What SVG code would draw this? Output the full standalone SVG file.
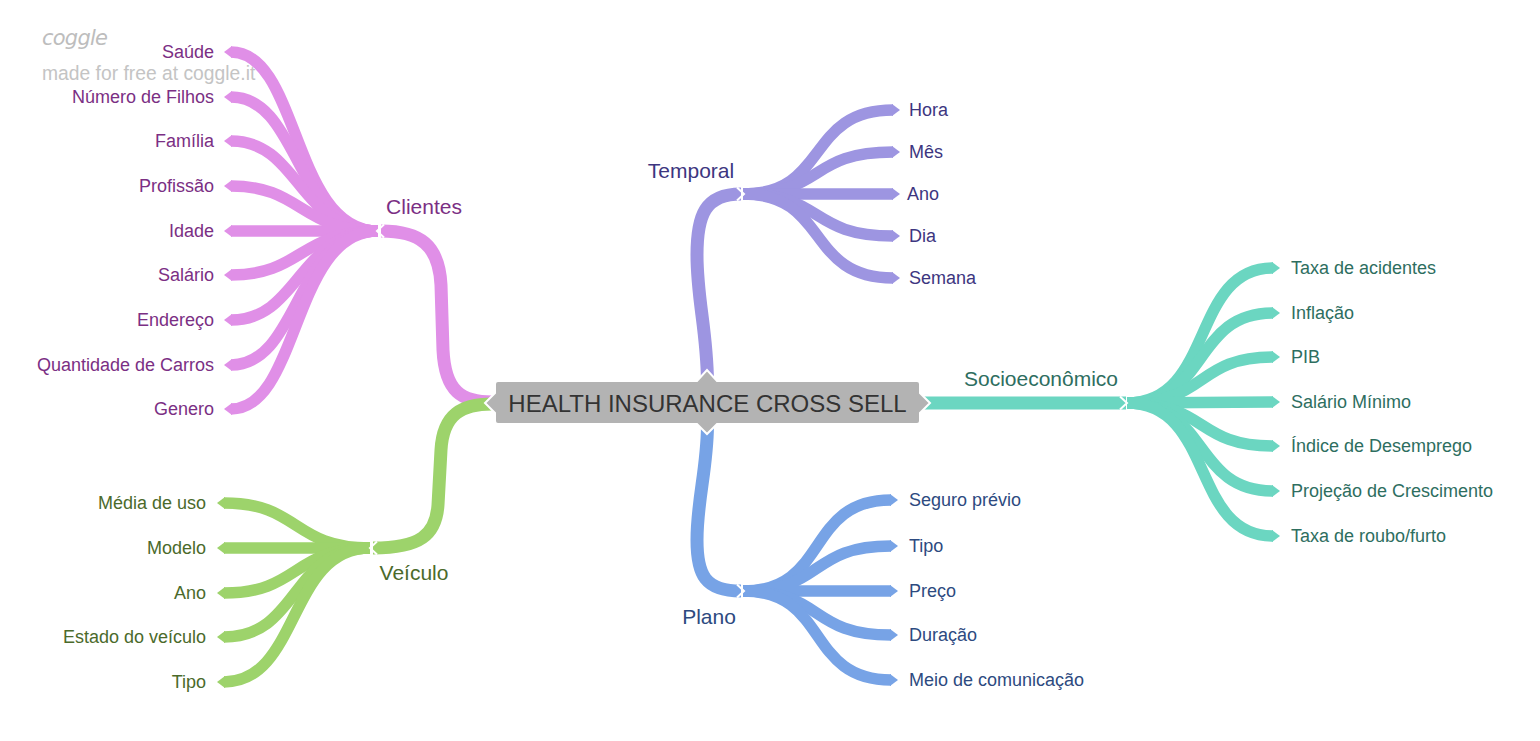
<svg xmlns="http://www.w3.org/2000/svg" width="1540" height="741" viewBox="0 0 1540 741">
<style>
text{font-family:"Liberation Sans",Arial,sans-serif}
.leaf{font-size:18px}
.mid{font-size:21px}
.b{fill:none;stroke-linecap:butt}
.lf{stroke-width:11.5}
.tr{stroke-width:13}
.cli{stroke:#e08fe7}.clif{fill:#e08fe7}.clit{fill:#7b2f84}
.tem{stroke:#9d95e1}.temf{fill:#9d95e1}.temt{fill:#3d3680}
.veh{stroke:#9dd36b}.vehf{fill:#9dd36b}.veht{fill:#4b6a2b}
.pla{stroke:#77a3e6}.plaf{fill:#77a3e6}.plat{fill:#2d4a80}
.soc{stroke:#6bd6c1}.socf{fill:#6bd6c1}.soct{fill:#2e6e5f}
.chev{fill:none;stroke:#fff;stroke-width:2}
</style>
<rect width="1540" height="741" fill="#fff"/>
<g id="watermark">
<text x="42" y="45" font-size="21" font-style="italic" fill="#bdbdbd" style="font-family:'DejaVu Sans',sans-serif" textLength="66">coggle</text>
<text x="42" y="80" font-size="19.3" fill="#c4c4c4">made for free at coggle.it</text>
</g>
<g id="connectors">
<!-- trunks -->
<path class="b tr cli" d="M492,402 C462,402 445,392 443,350 L441,285 C439,245 420,231 381,231"/>
<path class="b tr veh" d="M492,404 C462,404 443,414 441,450 L438,505 C436,535 420,548 373,548"/>
<path class="b tr tem" d="M707.5,382 C707,330 697,300 697,255 C697,215 705,194 741,194"/>
<path class="b tr pla" d="M707.5,426 C707,470 697,500 697,540 C697,575 705,591 741,591"/>
<path class="b tr soc" d="M924,403 L1126,403"/>
<!-- Clientes leaves -->
<g class="cli">
<path class="b lf" d="M378,231 C292,231 300,52 231,52"/>
<path class="b lf" d="M378,231 C295,231 300,97 231,97"/>
<path class="b lf" d="M378,231 C298,231 300,141 231,141"/>
<path class="b lf" d="M378,231 C300,231 302,186 231,186"/>
<path class="b lf" d="M378,231 L231,231"/>
<path class="b lf" d="M378,231 C300,231 302,275 231,275"/>
<path class="b lf" d="M378,231 C298,231 300,320 231,320"/>
<path class="b lf" d="M378,231 C295,231 300,365 231,365"/>
<path class="b lf" d="M378,231 C292,231 300,409 231,409"/>
</g>
<g class="clif">
<polygon points="232,46 224,52 232,58"/>
<polygon points="232,91 224,97 232,103"/>
<polygon points="232,135 224,141 232,147"/>
<polygon points="232,180 224,186 232,192"/>
<polygon points="232,225 224,231 232,237"/>
<polygon points="232,269 224,275 232,281"/>
<polygon points="232,314 224,320 232,326"/>
<polygon points="232,359 224,365 232,371"/>
<polygon points="232,403 224,409 232,415"/>
</g>
<!-- Veiculo leaves -->
<g class="veh">
<path class="b lf" d="M370,548 C292,548 300,503 224,503"/>
<path class="b lf" d="M370,548 L224,548"/>
<path class="b lf" d="M370,548 C292,548 300,593 224,593"/>
<path class="b lf" d="M370,548 C290,548 300,637 224,637"/>
<path class="b lf" d="M370,548 C288,548 300,682 224,682"/>
</g>
<g class="vehf">
<polygon points="225,497 217,503 225,509"/>
<polygon points="225,542 217,548 225,554"/>
<polygon points="225,587 217,593 225,599"/>
<polygon points="225,631 217,637 225,643"/>
<polygon points="225,676 217,682 225,688"/>
</g>
<!-- Temporal leaves -->
<g class="tem">
<path class="b lf" d="M743,194 C830,194 805,110 893,110"/>
<path class="b lf" d="M743,194 C825,194 808,152 893,152"/>
<path class="b lf" d="M743,194 L893,194"/>
<path class="b lf" d="M743,194 C825,194 808,236 893,236"/>
<path class="b lf" d="M743,194 C830,194 805,278 893,278"/>
</g>
<g class="temf">
<polygon points="892,104 900,110 892,116"/>
<polygon points="892,146 900,152 892,158"/>
<polygon points="892,188 900,194 892,200"/>
<polygon points="892,230 900,236 892,242"/>
<polygon points="892,272 900,278 892,284"/>
</g>
<!-- Plano leaves -->
<g class="pla">
<path class="b lf" d="M743,591 C830,591 805,500 891,500"/>
<path class="b lf" d="M743,591 C825,591 808,546 891,546"/>
<path class="b lf" d="M743,591 L891,591"/>
<path class="b lf" d="M743,591 C825,591 808,635 891,635"/>
<path class="b lf" d="M743,591 C830,591 805,680 891,680"/>
</g>
<g class="plaf">
<polygon points="890,494 898,500 890,506"/>
<polygon points="890,540 898,546 890,552"/>
<polygon points="890,585 898,591 890,597"/>
<polygon points="890,629 898,635 890,641"/>
<polygon points="890,674 898,680 890,686"/>
</g>
<!-- Socio leaves -->
<g class="soc">
<path class="b lf" d="M1127,403 C1215,403 1190,268 1273,268"/>
<path class="b lf" d="M1127,403 C1210,403 1192,313 1273,313"/>
<path class="b lf" d="M1127,403 C1208,403 1195,357 1273,357"/>
<path class="b lf" d="M1127,403 L1273,402"/>
<path class="b lf" d="M1127,403 C1208,403 1195,446 1273,446"/>
<path class="b lf" d="M1127,403 C1210,403 1192,491 1273,491"/>
<path class="b lf" d="M1127,403 C1215,403 1190,536 1273,536"/>
</g>
<g class="socf">
<polygon points="1272,262 1280,268 1272,274"/>
<polygon points="1272,307 1280,313 1272,319"/>
<polygon points="1272,351 1280,357 1272,363"/>
<polygon points="1272,396 1280,402 1272,408"/>
<polygon points="1272,440 1280,446 1272,452"/>
<polygon points="1272,485 1280,491 1272,497"/>
<polygon points="1272,530 1280,536 1272,542"/>
</g>
<!-- hub chevrons -->
<polyline class="chev" points="384,224.5 377,231 384,237.5"/>
<polyline class="chev" points="377,541.5 370,548 377,554.5"/>
<polyline class="chev" points="737,187.5 744,194 737,200.5"/>
<polyline class="chev" points="737,584.5 744,591 737,597.5"/>
<polyline class="chev" points="1120,396.5 1127,403 1120,409.5"/>
</g>
<g id="center">
<path d="M498,381 H697 L707,370 L717,381 H917 Q920,381 920,384 V393 L930,403 L920,413 V421 Q920,424 917,424 H717 L707,434 L697,424 H498 Q495,424 495,421 V413 L485,403 L495,393 V384 Q495,381 498,381 Z" fill="#b3b3b3" stroke="#fff" stroke-width="2"/>
<text x="707.5" y="411.5" font-size="24" fill="#333" text-anchor="middle">HEALTH INSURANCE CROSS SELL</text>
</g>
<g id="clientes"><text class="mid clit" x="424" y="214" text-anchor="middle">Clientes</text></g>
<g id="veiculo"><text class="mid veht" x="414" y="580" text-anchor="middle">Veículo</text></g>
<g id="temporal"><text class="mid temt" x="691" y="178" text-anchor="middle">Temporal</text></g>
<g id="plano"><text class="mid plat" x="709" y="624" text-anchor="middle">Plano</text></g>
<g id="socio"><text class="mid soct" x="1041" y="386" text-anchor="middle">Socioeconômico</text></g>
<g id="clientes-leaves" class="leaf clit" text-anchor="end">
<g id="saude"><text x="214" y="58">Saúde</text></g>
<g id="filhos"><text x="214" y="103">Número de Filhos</text></g>
<g id="familia"><text x="214" y="147">Família</text></g>
<g id="profissao"><text x="214" y="192">Profissão</text></g>
<g id="idade"><text x="214" y="237">Idade</text></g>
<g id="salario"><text x="214" y="281">Salário</text></g>
<g id="endereco"><text x="214" y="326">Endereço</text></g>
<g id="carros"><text x="214" y="371">Quantidade de Carros</text></g>
<g id="genero"><text x="214" y="415">Genero</text></g>
</g>
<g id="veiculo-leaves" class="leaf veht" text-anchor="end">
<g id="media"><text x="206" y="509">Média de uso</text></g>
<g id="modelo"><text x="206" y="554">Modelo</text></g>
<g id="ano-v"><text x="206" y="599">Ano</text></g>
<g id="estado"><text x="206" y="643">Estado do veículo</text></g>
<g id="tipo-v"><text x="206" y="688">Tipo</text></g>
</g>
<g id="temporal-leaves" class="leaf temt">
<g id="hora"><text x="909" y="116">Hora</text></g>
<g id="mes"><text x="909" y="158">Mês</text></g>
<g id="ano-t"><text x="907" y="200">Ano</text></g>
<g id="dia"><text x="909" y="242">Dia</text></g>
<g id="semana"><text x="909" y="284">Semana</text></g>
</g>
<g id="plano-leaves" class="leaf plat">
<g id="seguro"><text x="909" y="506">Seguro prévio</text></g>
<g id="tipo-p"><text x="909" y="552">Tipo</text></g>
<g id="preco"><text x="909" y="597">Preço</text></g>
<g id="duracao"><text x="909" y="641">Duração</text></g>
<g id="meio"><text x="909" y="686">Meio de comunicação</text></g>
</g>
<g id="socio-leaves" class="leaf soct">
<g id="acidentes"><text x="1291" y="274">Taxa de acidentes</text></g>
<g id="inflacao"><text x="1291" y="319">Inflação</text></g>
<g id="pib"><text x="1291" y="363">PIB</text></g>
<g id="salmin"><text x="1291" y="408">Salário Mínimo</text></g>
<g id="desemprego"><text x="1291" y="452">Índice de Desemprego</text></g>
<g id="projecao"><text x="1291" y="497">Projeção de Crescimento</text></g>
<g id="roubo"><text x="1291" y="542">Taxa de roubo/furto</text></g>
</g>
</svg>
